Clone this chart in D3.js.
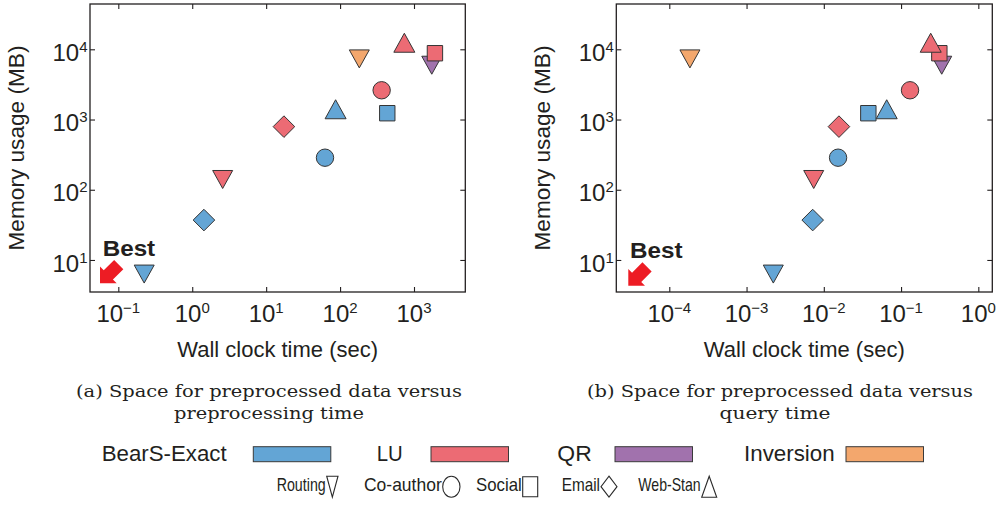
<!DOCTYPE html>
<html>
<head>
<meta charset="utf-8">
<script src="https://cdn.jsdelivr.net/npm/d3@7"></script>
<style>
  html, body { margin: 0; padding: 0; background: #fff; }
  svg { display: block; }
</style>
</head>
<body>
<svg id="chart" width="1005" height="507"></svg>
<script>
// ---- data -------------------------------------------------------------
const datasets = ["Routing", "Co-author", "Social", "Email", "Web-Stan"];
const methods = ["BearS-Exact", "LU", "QR", "Inversion"];

// memory of the preprocessed data (MB), shared by both panels
const bearsMemory = [6.3, 286, 1230, 37, 1400];
const luMemory = [140, 2610, 8790, 792, 12400];
const qrMemory = [5930];
const inversionMemory = [7300];

// preprocessing time (sec)
const bearsPreprocess = [0.224, 62.5, 435, 1.44, 87];
const luPreprocess = [2.58, 365, 1920, 17.4, 740];
const qrPreprocess = [1740];
const inversionPreprocess = [182];

// query time (sec)
const bearsQuery = [0.00222, 0.0153, 0.0377, 0.00718, 0.0652];
const luQuery = [0.0074, 0.1306, 0.313, 0.0157, 0.242];
const qrQuery = [0.336];
const inversionQuery = [0.000185];

// QR and Inversion only finish on the Routing graph
const qrDatasets = ["Routing"];
const inversionDatasets = ["Routing"];

const xTicksPreprocess = [1e-1, 1e0, 1e1, 1e2, 1e3];
const xTicksQuery = [1e-4, 1e-3, 1e-2, 1e-1, 1e0];
const yTicks = [1e1, 1e2, 1e3, 1e4];

const captionA = ["(a) Space for preprocessed data versus", "preprocessing time"];
const captionB = ["(b) Space for preprocessed data versus", "query time"];

// ---- styling ------------------------------------------------------------
const INK = "#231f20";
const SANS = "'Liberation Sans', Arial, Helvetica, sans-serif";
const NARROW = "'Liberation Sans Narrow', 'Liberation Sans', Arial, sans-serif";
const SERIF = "'DejaVu Serif', 'Liberation Serif', serif";

const methodColor = {
  "BearS-Exact": "#63a5d5",
  "LU": "#ec6b74",
  "QR": "#a172ad",
  "Inversion": "#f3a76d"
};

// marker width/height inside the plots
const markerSize = {
  "Routing": [20, 18],
  "Co-author": [17.4, 17.4],
  "Social": [15.4, 15.4],
  "Email": [21.6, 21.6],
  "Web-Stan": [21, 19]
};
// marker width/height in the shape legend (drawn taller, outline only)
const legendMarkerSize = {
  "Routing": [11.3, 21],
  "Co-author": [17.3, 21],
  "Social": [15, 20],
  "Email": [16, 21],
  "Web-Stan": [15, 21]
};

function shapePath(name, w, h) {
  const a = w / 2, b = h / 2;
  switch (name) {
    case "Routing":   return `M${-a},${-b}L${a},${-b}L0,${b}Z`;
    case "Web-Stan":  return `M0,${-b}L${a},${b}L${-a},${b}Z`;
    case "Social":    return `M${-a},${-b}H${a}V${b}H${-a}Z`;
    case "Email":     return `M0,${-b}L${a},0L0,${b}L${-a},0Z`;
    case "Co-author": return `M${-a},0A${a},${b} 0 1,0 ${a},0A${a},${b} 0 1,0 ${-a},0Z`;
  }
}

// series in drawing order (later ones sit on top)
const series = [
  { method: "QR", sets: qrDatasets, mem: qrMemory, pre: qrPreprocess, query: qrQuery },
  { method: "BearS-Exact", sets: datasets, mem: bearsMemory, pre: bearsPreprocess, query: bearsQuery },
  { method: "LU", sets: datasets, mem: luMemory, pre: luPreprocess, query: luQuery },
  { method: "Inversion", sets: inversionDatasets, mem: inversionMemory, pre: inversionPreprocess, query: inversionQuery }
];

const points = series.flatMap(s => s.sets.map((d, i) => ({
  method: s.method, dataset: d, mem: s.mem[i], pre: s.pre[i], query: s.query[i]
})));

// ---- layout -------------------------------------------------------------
const svg = d3.select("#chart");
const plotTop = 4, plotBottom = 292;
const yDomain = [Math.pow(10, 0.544), Math.pow(10, 4.645)];

const panels = [
  {
    left: 90, right: 465.3,
    xDomain: [Math.pow(10, -1.383), Math.pow(10, 3.694)],
    xTicks: xTicksPreprocess,
    xValue: d => d.pre,
    yTitleX: 23.5,
    best: { x: 102.7, y: 256 },
    arrowTip: [100, 283.3],
    caption: captionA,
    captionX: [76, 174],
    captionLen: [386, 190]
  },
  {
    left: 616.3, right: 992.3,
    xDomain: [Math.pow(10, -4.686), Math.pow(10, 0.181)],
    xTicks: xTicksQuery,
    xValue: d => d.query,
    yTitleX: 549.5,
    best: { x: 630, y: 258 },
    arrowTip: [628.3, 285.7],
    caption: captionB,
    captionX: [587, 719.5],
    captionLen: [386, 111]
  }
];

function powerLabel(sel, v) {
  const e = Math.round(Math.log10(v));
  sel.append("tspan").attr("font-size", 24).text("10");
  sel.append("tspan").attr("font-size", 15).attr("dy", -9)
    .text(e < 0 ? "\u2212" + Math.abs(e) : String(e));
}

function arrowPoints(tx, ty) {
  // fat arrow pointing down-left, tip at (tx, ty)
  const h = 11.8, w = 11.8, s = 6.5, L = 26.5;
  const u = [Math.SQRT1_2, -Math.SQRT1_2];  // back from the tip
  const n = [Math.SQRT1_2, Math.SQRT1_2];   // across the arrow
  const p = (a, b) => [tx + a * u[0] + b * n[0], ty + a * u[1] + b * n[1]];
  return [p(0, 0), p(h, w), p(h, s), p(L, s), p(L, -s), p(h, -s), p(h, -w)];
}

panels.forEach(p => {
  const x = d3.scaleLog().domain(p.xDomain).range([p.left, p.right]);
  const y = d3.scaleLog().domain(yDomain).range([plotBottom, plotTop]);
  const g = svg.append("g");

  // inward ticks on all four sides
  const tickAxes = [
    [d3.axisBottom(x).tickValues(p.xTicks), `translate(0,${plotBottom})`],
    [d3.axisTop(x).tickValues(p.xTicks), `translate(0,${plotTop})`],
    [d3.axisLeft(y).tickValues(yTicks), `translate(${p.left},0)`],
    [d3.axisRight(y).tickValues(yTicks), `translate(${p.right},0)`]
  ];
  tickAxes.forEach(([ax, tr]) => {
    const a = g.append("g").attr("transform", tr)
      .call(ax.tickSizeInner(-5).tickSizeOuter(0).tickFormat(() => ""));
    a.select(".domain").remove();
    a.selectAll(".tick line").attr("stroke", INK).attr("stroke-width", 1.1);
    a.selectAll(".tick text").remove();
  });

  // frame
  g.append("rect")
    .attr("x", p.left).attr("y", plotTop)
    .attr("width", p.right - p.left).attr("height", plotBottom - plotTop)
    .attr("fill", "none").attr("stroke", INK).attr("stroke-width", 1.3);

  // tick labels
  g.selectAll(".xlab").data(p.xTicks).join("text")
    .attr("class", "xlab")
    .attr("x", d => x(d)).attr("y", 321.7)
    .attr("text-anchor", "middle")
    .attr("font-family", SANS).attr("fill", INK)
    .each(function (d) { powerLabel(d3.select(this), d); });

  g.selectAll(".ylab").data(yTicks).join("text")
    .attr("class", "ylab")
    .attr("x", p.left - 2.5).attr("y", d => y(d) + 11.7)
    .attr("text-anchor", "end")
    .attr("font-family", SANS).attr("fill", INK)
    .each(function (d) { powerLabel(d3.select(this), d); });

  // axis titles
  g.append("text")
    .attr("x", (p.left + p.right) / 2).attr("y", 356.7)
    .attr("text-anchor", "middle")
    .attr("font-family", SANS).attr("font-size", 22).attr("fill", INK)
    .text("Wall clock time (sec)");

  g.append("text")
    .attr("transform", `translate(${p.yTitleX},${(plotTop + plotBottom) / 2}) rotate(-90)`)
    .attr("text-anchor", "middle")
    .attr("font-family", SANS).attr("font-size", 22).attr("fill", INK)
    .attr("textLength", 205).attr("lengthAdjust", "spacingAndGlyphs")
    .text("Memory usage (MB)");

  // "Best" corner annotation
  g.append("polygon")
    .attr("points", arrowPoints(p.arrowTip[0], p.arrowTip[1]).map(q => q.join(",")).join(" "))
    .attr("fill", "#ed1c24");
  g.append("text")
    .attr("x", p.best.x).attr("y", p.best.y)
    .attr("font-family", SANS).attr("font-weight", "bold").attr("font-size", 22)
    .attr("textLength", 52.5).attr("lengthAdjust", "spacingAndGlyphs")
    .attr("fill", INK)
    .text("Best");

  // data markers
  g.selectAll(".pt").data(points).join("path")
    .attr("class", "pt")
    .attr("transform", d => `translate(${x(p.xValue(d))},${y(d.mem)})`)
    .attr("d", d => shapePath(d.dataset, ...markerSize[d.dataset]))
    .attr("fill", d => methodColor[d.method])
    .attr("stroke", "#353535").attr("stroke-width", 1)
    .attr("stroke-linejoin", "miter");

  // sub-caption
  p.caption.forEach((line, i) => {
    svg.append("text")
      .attr("x", p.captionX[i]).attr("y", i === 0 ? 396.5 : 419)
      .attr("font-family", SERIF).attr("font-size", 17.5).attr("fill", INK)
      .attr("textLength", p.captionLen[i]).attr("lengthAdjust", "spacingAndGlyphs")
      .text(line);
  });
});

// ---- method legend (colour swatches) ------------------------------------
const methodLegendTextX = [101.7, 376.7, 557.3, 744];
const methodLegendTextLen = [125, 26, 34.4, 90.7];
const methodLegendSwatchX = [253.3, 431, 615, 846];

const ml = svg.append("g");
methods.forEach((m, i) => {
  ml.append("text")
    .attr("x", methodLegendTextX[i]).attr("y", 460.7)
    .attr("font-family", SANS).attr("font-size", 22).attr("fill", INK)
    .attr("textLength", methodLegendTextLen[i]).attr("lengthAdjust", "spacingAndGlyphs")
    .text(m);
  ml.append("rect")
    .attr("x", methodLegendSwatchX[i]).attr("y", 446.7)
    .attr("width", 77.5).attr("height", 15)
    .attr("fill", methodColor[m])
    .attr("stroke", "#3a3a3a").attr("stroke-width", 1);
});

// ---- dataset legend (marker shapes) --------------------------------------
const shapeLegendTextX = [276.7, 364, 476, 561.7, 638.3];
const shapeLegendTextLen = [49, 77.7, 45.7, 38.3, 62.4];

const sl = svg.append("g");
datasets.forEach((d, i) => {
  sl.append("text")
    .attr("x", shapeLegendTextX[i]).attr("y", 490.5)
    .attr("font-family", NARROW).attr("font-size", 18.5).attr("fill", INK)
    .attr("textLength", shapeLegendTextLen[i]).attr("lengthAdjust", "spacingAndGlyphs")
    .text(d);
  const [w, h] = legendMarkerSize[d];
  const cx = shapeLegendTextX[i] + shapeLegendTextLen[i] + 1 + w / 2;
  sl.append("path")
    .attr("transform", `translate(${cx},486.7)`)
    .attr("d", shapePath(d, w, h))
    .attr("fill", "#fff")
    .attr("stroke", "#2a2a2a").attr("stroke-width", 1.1);
});
</script>
</body>
</html>
